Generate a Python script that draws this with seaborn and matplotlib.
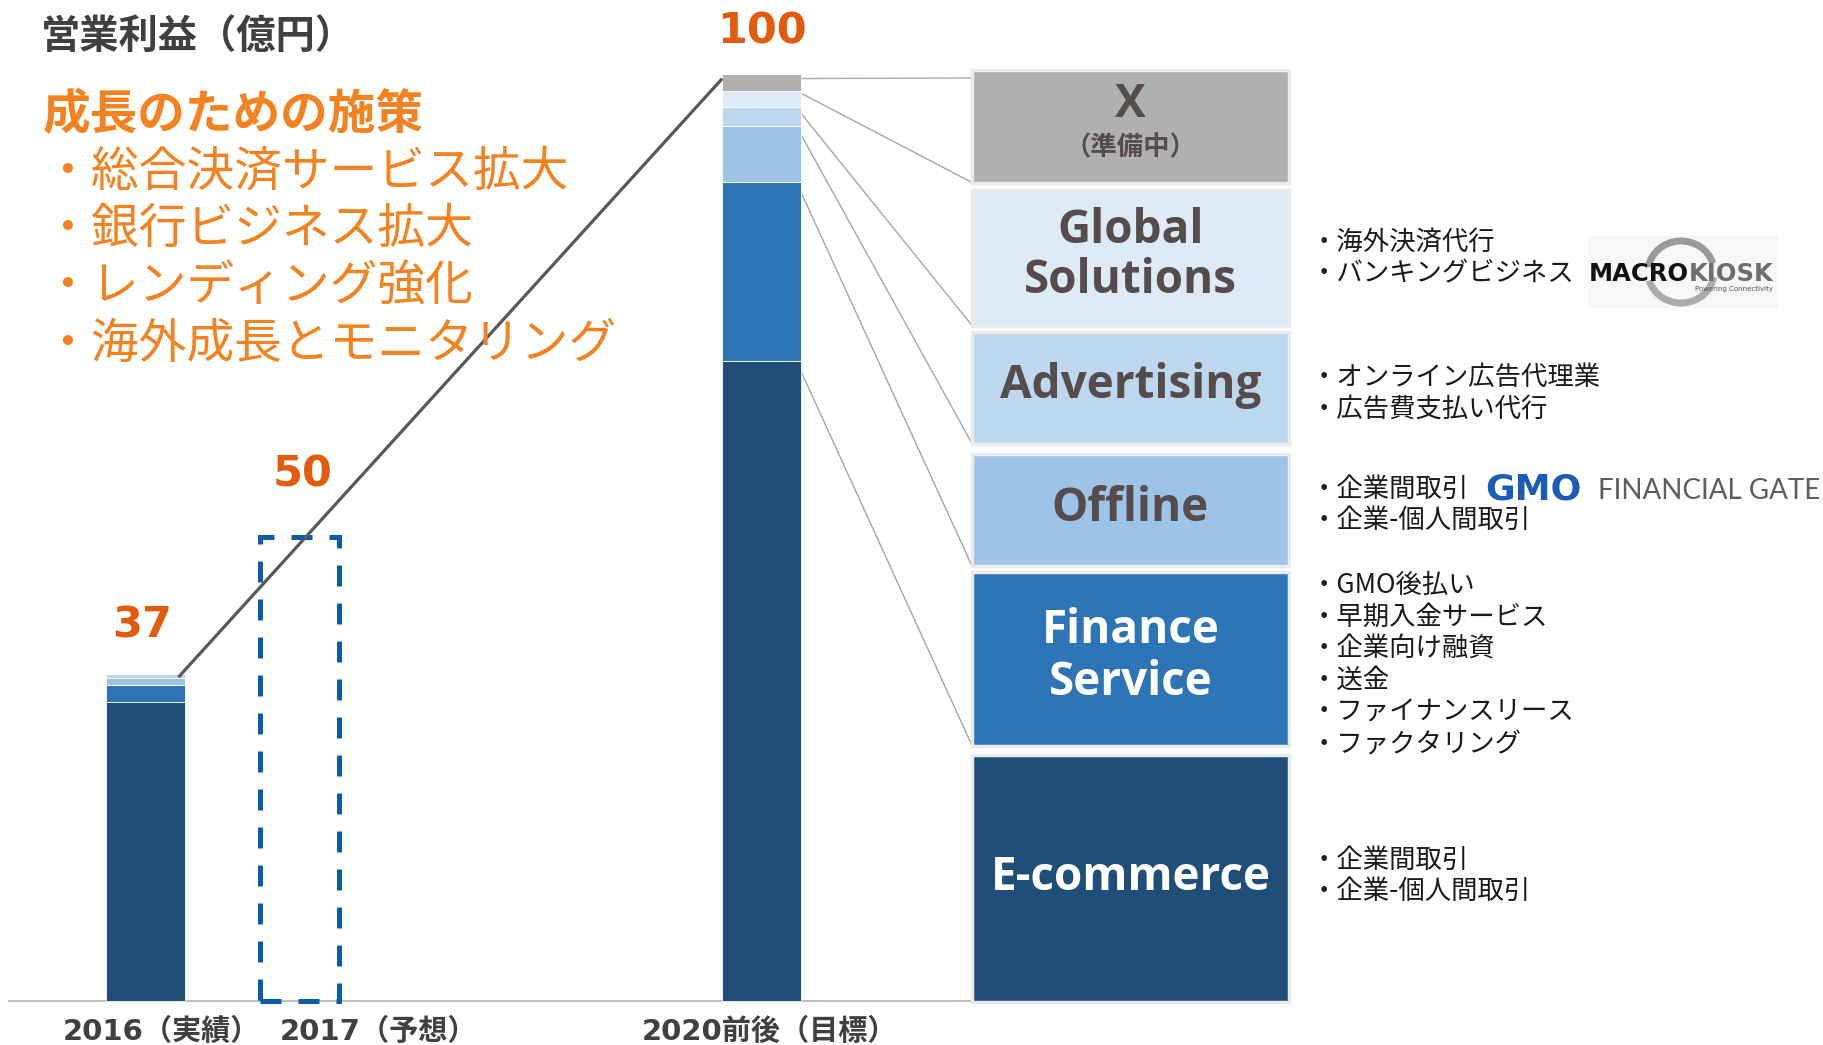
import matplotlib
matplotlib.use('Agg')
import matplotlib.pyplot as plt
import numpy as np
import seaborn as sns
from matplotlib.patches import Rectangle, Arc, ConnectionPatch

# data (億円)
periods = ['2016（実績）', '2017（予想）', '2020前後（目標）']
segments = ['E-commerce', 'Finance Service', 'Offline', 'Advertising', 'Global Solutions', 'X']
profit_2016 = [32.2, 1.8, 0.8, 0.4, 0.0, 0.0]
profit_2017_forecast = 50
profit_2020_target = [69.0, 19.3, 6.0, 2.0, 1.8, 1.8]
total_labels = ['37', '50', '100']

box_titles = [['E-commerce'], ['Finance', 'Service'], ['Offline'], ['Advertising'],
              ['Global', 'Solutions'], ['X']]
box_notes = [
    ['企業間取引', '企業-個人間取引'],
    ['GMO後払い', '早期入金サービス', '企業向け融資', '送金', 'ファイナンスリース', 'ファクタリング'],
    ['企業間取引', '企業-個人間取引'],
    ['オンライン広告代理業', '広告費支払い代行'],
    ['海外決済代行', 'バンキングビジネス'],
    [],
]
strategy_title = '成長のための施策'
strategies = ['総合決済サービス拡大', '銀行ビジネス拡大', 'レンディング強化', '海外成長とモニタリング']

seg_colors = ['#1F4E79', '#2E75B6', '#9DC3E6', '#BDD7EE', '#DEEBF7', '#B0B0B0']
title_colors = ['white', 'white', '#564C4C', '#564C4C', '#564C4C', '#564C4C']

CJK = ['Noto Sans CJK JP', 'DejaVu Sans']
NUM = ['DejaVu Sans', 'Noto Sans CJK JP']
BOX = ['Open Sans', 'Noto Sans CJK JP']
ORANGE = '#F58220'
NUM_ORANGE = '#E35B0C'

sns.set_theme(style='white')
plt.rcParams['font.family'] = CJK

W, H = 1823, 1045
fig = plt.figure(figsize=(W / 100, H / 100), dpi=100)
fig.patch.set_facecolor('white')


def fp(x, y):
    return x / W, 1 - y / H


# axes covers the whole slide; pixel layout -> data scale
x0_px, x_unit = 145.5, 154.0
base_px, y_unit = 1001.0, 9.28
ax = fig.add_axes([0, 0, 1, 1])
ax.set_xlim(-x0_px / x_unit, (W - x0_px) / x_unit)
ax.set_ylim((base_px - H) / y_unit, base_px / y_unit)
ax.axis('off')

bar_pos = [0, 1, 4]
bar_w = 0.51


def stacked(x, values):
    bottoms = np.concatenate([[0], np.cumsum(values)[:-1]])
    for v, b, c in zip(values, bottoms, seg_colors):
        if v > 0:
            ax.bar(x, v, bottom=b, width=bar_w, color=c, edgecolor='white', linewidth=0.6, zorder=2)
    return bottoms


stacked(bar_pos[0], profit_2016)
bottoms_2020 = stacked(bar_pos[2], profit_2020_target)
ax.bar(bar_pos[1], profit_2017_forecast, width=bar_w, fill=False, edgecolor='#0B5CAD',
       linewidth=3.6, linestyle=(0, (4.2, 3.4)), zorder=3)

totals = [sum(profit_2016), profit_2017_forecast, sum(profit_2020_target)]

# baseline
box_left = 972
ax.plot([(9 - x0_px) / x_unit, (box_left - x0_px) / x_unit], [0, 0], color='#BFBFBF', lw=1.5, zorder=1)

# growth line
ax.plot([bar_pos[0] + bar_w * 0.42, bar_pos[2] - bar_w / 2], [totals[0] - 0.3, totals[2] - 0.5],
        color='#595959', lw=2.3, zorder=4, solid_capstyle='butt')

# value labels
label_offsets = [26.6, 36.7, 21.6]
label_dx = [-2.5, 2, 0]
for x, t, lbl, off, dx in zip(bar_pos, totals, total_labels, label_offsets, label_dx):
    ax.annotate(lbl, (x, t), xytext=(dx, off), textcoords='offset points', ha='center',
                va='baseline', fontsize=31, fontweight='bold', color=NUM_ORANGE, family=NUM)

# period labels
period_x = [161, 379, 770]
for px_, name in zip(period_x, periods):
    fig.text(*fp(px_, 1040), name, ha='center', va='baseline', fontsize=21,
             fontweight='bold', color='#404040', family=NUM)

# headings on the left
fig.text(*fp(41, 36), '営業利益（億円）', ha='left', va='center', fontsize=28.3,
         fontweight='bold', color='#404040')
fig.text(*fp(43, 115), strategy_title, ha='left', va='center', fontsize=34.3,
         fontweight='bold', color=ORANGE)
for i, s in enumerate(strategies):
    fig.text(*fp(43, 172 + 57.5 * i), '・' + s, ha='left', va='center', fontsize=34.4,
             color=ORANGE)

# segment boxes
box_right = 1289
box_tops = [754.5, 571.5, 453.5, 331.5, 189.5, 70]
box_bottoms = [1002, 745.5, 566, 443.5, 325.5, 182.5]
title_baselines = [[890], [643, 695], [521], [398], [243, 293], [117]]
note_first_y = [860, 585, 489, 377, 242, None]
cx = (box_left + box_right) / 2
for i in range(len(segments)):
    x_, y_ = fp(box_left, box_bottoms[i])
    rect = Rectangle((x_, y_), (box_right - box_left) / W, (box_bottoms[i] - box_tops[i]) / H,
                     transform=fig.transFigure, facecolor=seg_colors[i], edgecolor='#EBEBEB',
                     linewidth=2.5, zorder=1)
    fig.patches.append(rect)
    for line, yb in zip(box_titles[i], title_baselines[i]):
        fig.text(*fp(cx, yb), line, ha='center', va='baseline', fontsize=33,
                 fontweight='bold', color=title_colors[i], family=BOX, zorder=5)
    if note_first_y[i] is not None:
        for j, note in enumerate(box_notes[i]):
            fig.text(*fp(1311, note_first_y[i] + 31.8 * j), '・' + note, ha='left',
                     va='center', fontsize=19, color='#1A1A1A')
fig.text(*fp(cx, 147.5), '（準備中）', ha='center', va='center', fontsize=19,
         fontweight='bold', color='#564C4C', zorder=5)

# connectors from the 2020 bar to the boxes
bar_right = bar_pos[2] + bar_w / 2
for i in range(1, len(segments)):
    con = ConnectionPatch(xyA=(bar_right - 0.03, bottoms_2020[i]), coordsA=ax.transData,
                          xyB=fp(box_left, box_bottoms[i]), coordsB=fig.transFigure,
                          color='#A6A6A6', lw=1.0, zorder=1.5)
    ax.add_artist(con)
con = ConnectionPatch(xyA=(bar_right, totals[2] - 0.5), coordsA=ax.transData,
                      xyB=fp(box_left, 78), coordsB=fig.transFigure,
                      color='#A6A6A6', lw=1.0, zorder=1.5)
ax.add_artist(con)

# MACROKIOSK logo (as text)
fig.patches.append(Rectangle(fp(1588, 308), 190 / W, 72 / H, transform=fig.transFigure,
                             facecolor='#F7F7F7', edgecolor='none', zorder=0.5))
fig.patches.append(Arc(fp(1681, 272), 66 / W, 62 / H, theta1=25, theta2=165,
                       transform=fig.transFigure, color='#9A9A9A', lw=5, zorder=0.8))
fig.patches.append(Arc(fp(1681, 272), 66 / W, 62 / H, theta1=205, theta2=345,
                       transform=fig.transFigure, color='#ABABAB', lw=5, zorder=0.8))
fig.text(*fp(1589, 281), 'MACRO', ha='left', va='baseline', fontsize=17.5,
         fontweight='bold', color='#111111', family='DejaVu Sans')
fig.text(*fp(1689, 281), 'KIOSK', ha='left', va='baseline', fontsize=17.5,
         fontweight='bold', color='#6E6E6E', family='DejaVu Sans')
fig.text(*fp(1773, 289), 'Powering Connectivity', ha='right', va='center', fontsize=5,
         color='#555555', family='DejaVu Sans')

# GMO FINANCIAL GATE logo (as text)
fig.text(*fp(1485, 500), 'GMO', ha='left', va='baseline', fontsize=26,
         fontweight='heavy', color='#1A5DB8', family='DejaVu Sans')
fig.text(*fp(1598, 499), 'FINANCIAL GATE', ha='left', va='baseline', fontsize=20,
         fontweight='normal', color='#5E5E5E', family='Lato')

plt.savefig('out.png', dpi=100)
